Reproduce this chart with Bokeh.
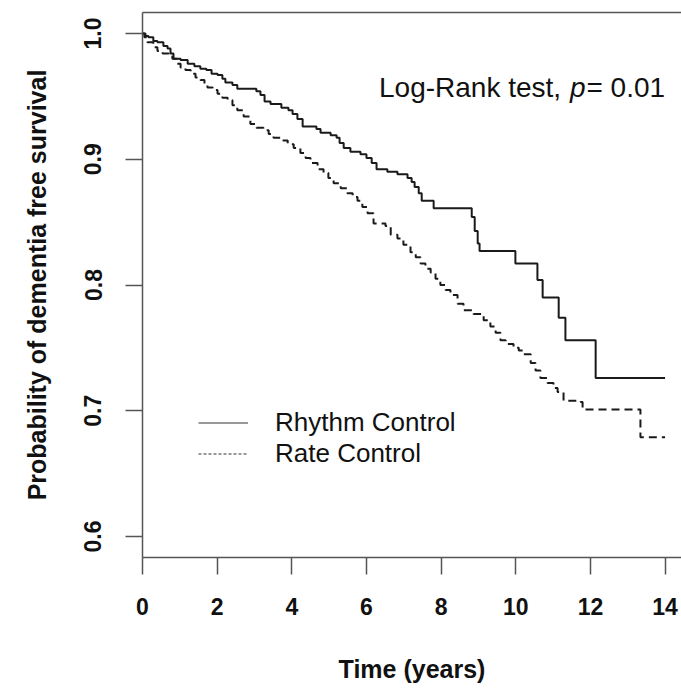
from bokeh.plotting import figure
from bokeh.models import Range1d, FixedTicker, LinearAxis, Legend, LegendItem, Label
from bokeh.embed import file_html
from bokeh.resources import INLINE

# ---- data (Kaplan-Meier step curves) ----
rhythm_time = [0.00, 0.08, 0.16, 0.29, 0.40, 0.56, 0.67, 0.75, 0.83, 1.02, 1.21, 1.39, 1.55,
               1.71, 1.85, 2.01, 2.14, 2.22, 2.41, 2.54, 3.05, 3.16, 3.27, 3.43, 3.72, 3.91,
               4.02, 4.15, 4.29, 4.66, 4.77, 5.04, 5.20, 5.28, 5.39, 5.57, 5.84, 6.00, 6.14,
               6.27, 6.56, 6.83, 7.10, 7.21, 7.29, 7.40, 7.48, 7.80, 8.82, 8.90, 8.98, 9.03,
               9.99, 10.58, 10.72, 11.15, 11.33, 12.14, 14.00]
rhythm_surv = [1.000, 0.998, 0.997, 0.994, 0.993, 0.990, 0.988, 0.984, 0.980, 0.979, 0.976,
               0.974, 0.972, 0.971, 0.968, 0.967, 0.964, 0.961, 0.959, 0.956, 0.954, 0.951,
               0.946, 0.944, 0.941, 0.939, 0.936, 0.932, 0.926, 0.924, 0.921, 0.919, 0.917,
               0.913, 0.909, 0.906, 0.904, 0.901, 0.897, 0.892, 0.890, 0.888, 0.885, 0.882,
               0.878, 0.873, 0.867, 0.861, 0.854, 0.843, 0.833, 0.827, 0.817, 0.804, 0.790,
               0.774, 0.756, 0.726, 0.726]

rate_time = [0.00, 0.05, 0.13, 0.29, 0.40, 0.54, 0.70, 0.80, 0.91, 1.02, 1.15, 1.29, 1.42,
             1.55, 1.66, 1.74, 1.88, 2.01, 2.14, 2.28, 2.41, 2.54, 2.71, 2.89, 3.05, 3.24,
             3.38, 3.51, 3.70, 3.89, 4.05, 4.23, 4.37, 4.50, 4.69, 4.85, 4.98, 5.12, 5.31,
             5.49, 5.63, 5.76, 5.89, 6.03, 6.19, 6.51, 6.65, 6.83, 6.99, 7.18, 7.32, 7.45,
             7.58, 7.72, 7.85, 7.98, 8.12, 8.25, 8.44, 8.60, 8.87, 9.14, 9.32, 9.46, 9.59,
             9.73, 9.94, 10.08, 10.21, 10.40, 10.53, 10.66, 10.85, 11.01, 11.12, 11.28,
             11.74, 11.79, 13.34, 14.00]
rate_surv = [1.000, 0.997, 0.993, 0.989, 0.986, 0.984, 0.983, 0.980, 0.976, 0.973, 0.971,
             0.968, 0.965, 0.963, 0.959, 0.957, 0.955, 0.952, 0.949, 0.947, 0.943, 0.939,
             0.934, 0.928, 0.925, 0.923, 0.920, 0.917, 0.915, 0.912, 0.909, 0.905, 0.901,
             0.897, 0.892, 0.889, 0.885, 0.881, 0.877, 0.873, 0.870, 0.867, 0.862, 0.857,
             0.849, 0.847, 0.840, 0.837, 0.832, 0.826, 0.822, 0.817, 0.813, 0.810, 0.805,
             0.800, 0.796, 0.792, 0.785, 0.780, 0.777, 0.772, 0.767, 0.762, 0.756, 0.753,
             0.750, 0.748, 0.745, 0.738, 0.732, 0.726, 0.722, 0.718, 0.715, 0.708, 0.707,
             0.701, 0.679, 0.679]

series_names = ["Rhythm Control", "Rate Control"]
x_ticks = [0, 2, 4, 6, 8, 10, 12, 14]
y_ticks = [0.6, 0.7, 0.8, 0.9, 1.0]
y_tick_labels = ["0.6", "0.7", "0.8", "0.9", "1.0"]
x_title = "Time (years)"
y_title = "Probability of dementia free survival"
test_text = ["Log-Rank test, ", "p", "= 0.01"]

FONT = "Liberation Sans"
AXC = "#555555"
INK = "#1a1a1a"

p = figure(width=681, height=688, output_backend="svg", toolbar_location=None,
           x_range=Range1d(0, 14.44), y_range=Range1d(0.5833, 1.0167),
           min_border_left=142, min_border_right=0, min_border_top=12,
           min_border_bottom=131)
p.outline_line_color = None
p.grid.visible = False
p.background_fill_color = "white"
p.border_fill_color = "white"

# curves
p.step(rhythm_time, rhythm_surv, mode="after", line_color=INK, line_width=2)
p.step(rate_time, rate_surv, mode="after", line_color=INK, line_width=2,
       line_dash="8 5")

# axes
xa = p.xaxis[0]
xa.ticker = FixedTicker(ticks=x_ticks)
ya = p.yaxis[0]
ya.ticker = FixedTicker(ticks=y_ticks)
ya.major_label_overrides = {t: l for t, l in zip(y_ticks, y_tick_labels)}
ya.major_label_orientation = "vertical"
for ax in (xa, ya):
    ax.axis_line_color = AXC
    ax.axis_line_width = 1.5
    ax.major_tick_line_color = AXC
    ax.major_tick_line_width = 1.5
    ax.major_tick_out = 17
    ax.major_tick_in = 0
    ax.minor_tick_line_color = None
    ax.major_label_text_font = FONT
    ax.major_label_text_font_style = "bold"
    ax.major_label_text_font_size = "23px"
    ax.major_label_text_color = "#111111"
    ax.axis_label_text_font = FONT
    ax.axis_label_text_font_style = "bold"
    ax.axis_label_text_font_size = "25px"
    ax.axis_label_text_color = "#111111"
xa.axis_label = x_title
ya.axis_label = y_title
xa.major_label_standoff = 23
xa.axis_label_standoff = 37
ya.major_label_standoff = 24
ya.axis_label_standoff = 31

top = LinearAxis(ticker=FixedTicker(ticks=[]), axis_line_color=AXC, axis_line_width=1.5,
                 major_tick_line_color=None, minor_tick_line_color=None,
                 major_label_text_font_size="0px")
p.add_layout(top, "above")

# legend samples: thin hidden copies of the curves (only their legend glyph is seen)
leg_solid = p.line(rhythm_time, rhythm_surv, line_color="#333333", line_width=1.2,
                   visible=False)
leg_dash = p.line(rate_time, rate_surv, line_color="#333333", line_width=1.2,
                  line_dash="3 2", visible=False)
legend = Legend(items=[LegendItem(label=series_names[0], renderers=[leg_solid]),
                       LegendItem(label=series_names[1], renderers=[leg_dash])],
                location=(56, 88), background_fill_alpha=0, border_line_color=None,
                padding=0, margin=0, glyph_width=50, glyph_height=31, label_height=31,
                spacing=0, label_standoff=27, label_text_font=FONT,
                label_text_font_size="26px", label_text_color="#111111",
                inactive_fill_alpha=0)
p.add_layout(legend)

# log-rank annotation, right aligned at x=14
fs = 28
w_tail = 2.808 * fs
w_p = 0.556 * fs
common = dict(x=14, y=0.957, text_align="right", text_baseline="alphabetic",
              text_font=FONT, text_font_size=f"{fs}px", text_color="#111111")
p.add_layout(Label(text=test_text[2], x_offset=0, **common))
p.add_layout(Label(text=test_text[1], x_offset=-w_tail - 1, text_font_style="italic", **common))
p.add_layout(Label(text=test_text[0], x_offset=-w_tail - w_p - 2, **common))

open("out.html", "w").write(file_html(p, INLINE))
